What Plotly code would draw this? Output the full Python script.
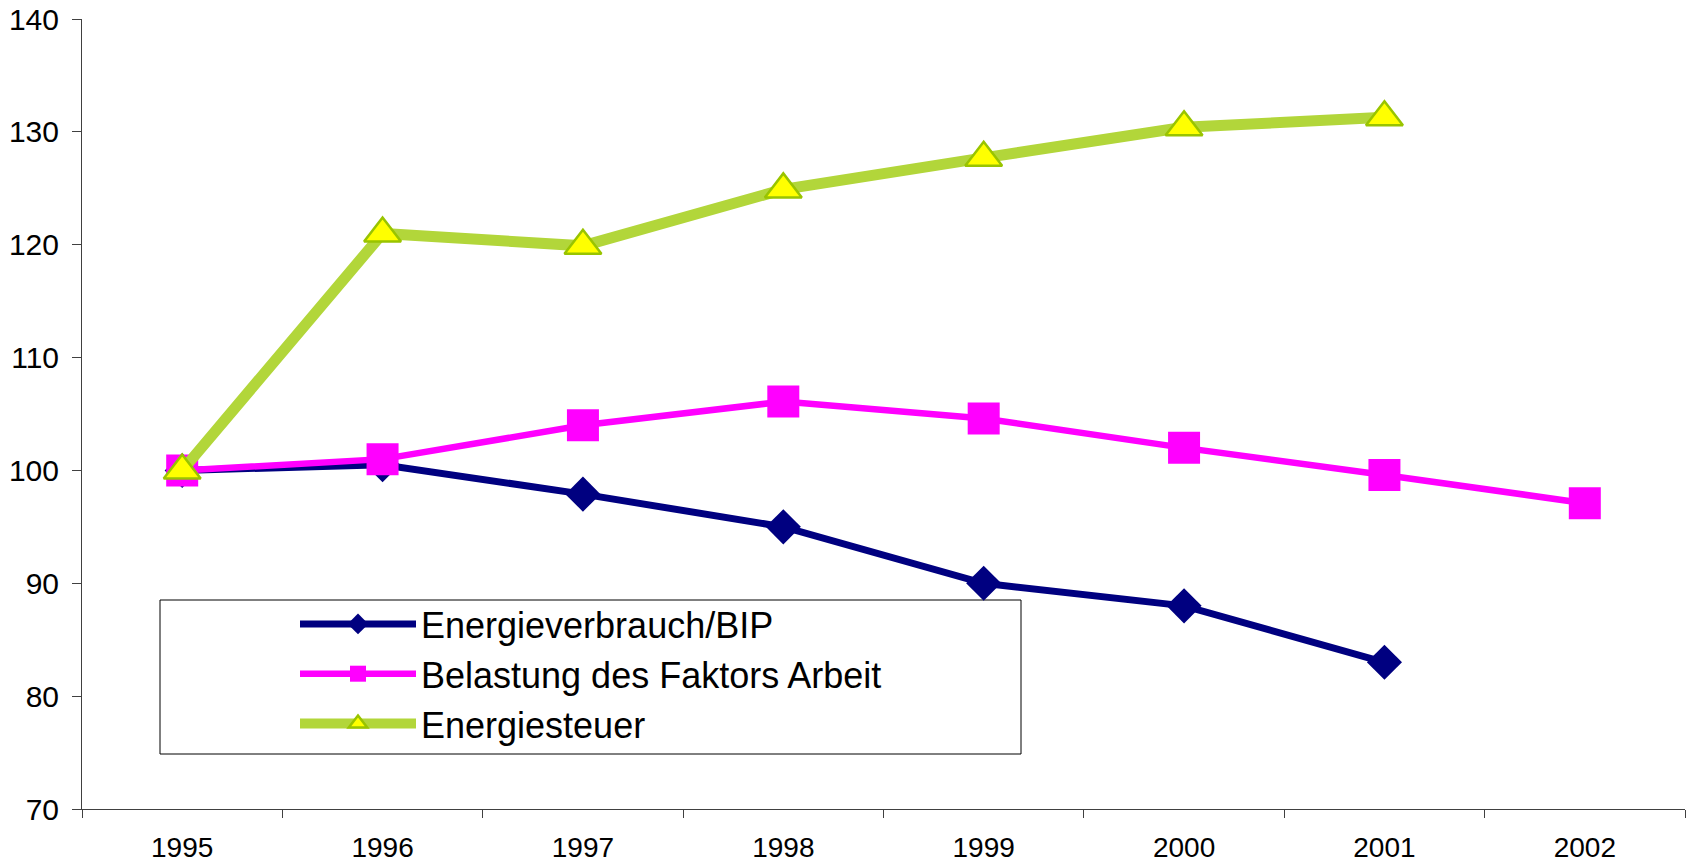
import plotly.graph_objects as go

years = ["1995", "1996", "1997", "1998", "1999", "2000", "2001", "2002"]
energie_bip = [100, 100.5, 97.9, 95.0, 90.0, 88.0, 83.0, None]
belastung = [100, 101.0, 104.0, 106.1, 104.6, 102.0, 99.6, 97.1]
energiesteuer = [100, 121.0, 119.9, 124.9, 127.7, 130.4, 131.3, None]
names = ["Energieverbrauch/BIP", "Belastung des Faktors Arbeit", "Energiesteuer"]
y_ticks = [70, 80, 90, 100, 110, 120, 130, 140]

FONT = "Liberation Sans, Arial, sans-serif"

fig = go.Figure()
fig.add_trace(go.Scatter(
    x=years, y=energie_bip, name=names[0], mode="lines+markers", legendgroup="a",
    line=dict(color="#000080", width=7),
    marker=dict(symbol="diamond", size=27, color="#000080"),
))
fig.add_trace(go.Scatter(
    x=years, y=belastung, name=names[1], mode="lines+markers", legendgroup="b",
    line=dict(color="#FF00FF", width=6.5),
    marker=dict(symbol="square", size=32, color="#FF00FF"),
))
fig.add_trace(go.Scatter(
    x=years, y=energiesteuer, name=names[2], mode="lines+markers", legendgroup="c",
    line=dict(color="#B2D63A", width=11),
    marker=dict(symbol="triangle-up", size=32, color="#FFFF00",
                line=dict(color="#99C400", width=2.5)),
))

# plot area in page pixels: x 82..1685, y 19..809 (page body margin removed below)
W, H = 1694, 862
L, R, T, B = 82, 9, 19, 53
pw, ph = W - L - R, H - T - B

def px_x(p):
    return (p - L) / pw

def px_y(p):
    return (H - B - p) / ph

fig.add_shape(type="rect", xref="paper", yref="paper",
              x0=px_x(160), x1=px_x(1021), y0=px_y(754), y1=px_y(600),
              line=dict(color="#000000", width=1), fillcolor="rgba(0,0,0,0)",
              layer="below")

fig.update_layout(
    width=W, height=H,
    margin=dict(l=L, r=R, t=T, b=B, pad=0, autoexpand=False),
    paper_bgcolor="white", plot_bgcolor="white",
    font=dict(family=FONT, color="#000000", size=29),
    showlegend=True,
    legend=dict(
        x=px_x(295), y=px_y(594), xanchor="left", yanchor="top",
        bgcolor="rgba(0,0,0,0)", borderwidth=0,
        font=dict(family=FONT, size=36, color="#000000"),
        itemwidth=116, tracegroupgap=3,
        traceorder="normal",
    ),
    xaxis=dict(
        type="category", categoryorder="array", categoryarray=years,
        range=[-0.5, 7.5], tickson="boundaries", automargin=False,
        showline=True, linecolor="#404040", linewidth=1,
        ticks="outside", ticklen=8, tickcolor="#404040", tickwidth=1,
        showgrid=False, zeroline=False, ticklabeloverflow="allow",
        tickfont=dict(family=FONT, size=28), ticklabelstandoff=13,
    ),
    yaxis=dict(
        range=[70, 140], tickvals=y_ticks, automargin=False,
        showline=True, linecolor="#404040", linewidth=1,
        ticks="outside", ticklen=9, tickcolor="#404040", tickwidth=1,
        showgrid=False, zeroline=False, ticklabeloverflow="allow",
        tickfont=dict(family=FONT, size=30), ticklabelstandoff=7,
    ),
)

fig.write_html("out.html", config={"displayModeBar": False},
               post_script="document.body.style.margin='0';")
